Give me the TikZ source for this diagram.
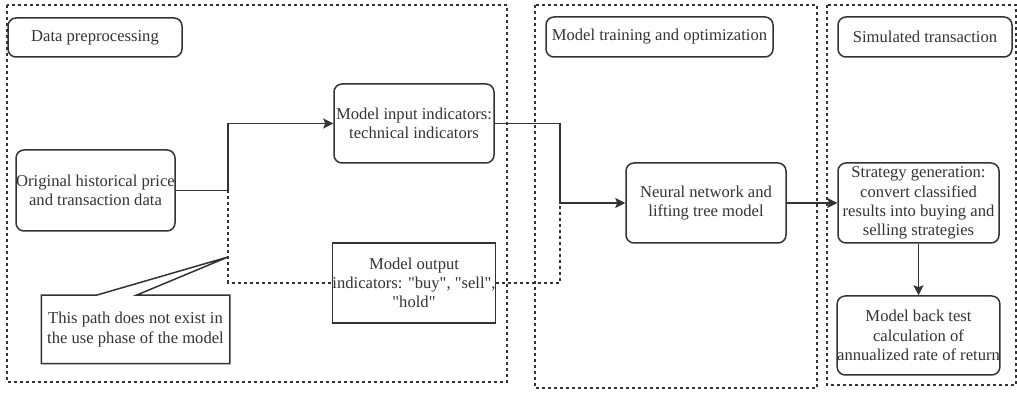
\documentclass[tikz,border=0pt]{standalone}
\usepackage{fontspec}
\setmainfont{Liberation Serif}
\usetikzlibrary{arrows.meta}
\newlength{\du}
\setlength{\du}{0.5pt}
\definecolor{dialinecolor}{rgb}{0.200000, 0.200000, 0.200000}
\tikzset{
  roundbox/.style={draw=dialinecolor, line width=0.75pt, rounded corners=4pt, align=center,
    inner sep=0pt, text=dialinecolor, font=\fontsize{8.3}{9.6}\selectfont},
  squarebox/.style={roundbox, rounded corners=0pt},
  flow/.style={draw=dialinecolor, line width=0.75pt, -{Stealth[length=5pt,width=5pt,inset=1pt]}},
  backpath/.style={draw=dialinecolor, line width=0.6pt, dash pattern=on 1.5pt off 1.5pt},
  panel/.style={draw=dialinecolor, line width=0.6pt, dash pattern=on 1.5pt off 1.5pt}
}
\begin{document}
\begin{tikzpicture}
\pgftransformxscale{1.000000}
\pgftransformyscale{-1.000000}
\useasboundingbox (0\du,0\du) rectangle (1017\du,394\du);
% stage frames
\draw[panel] (7\du,5\du) rectangle (507\du,382\du);
\draw[panel] (535\du,5\du) rectangle (817\du,388\du);
\draw[panel] (827\du,5\du) rectangle (1016\du,385\du);
% stage titles
\node[roundbox, minimum width=174\du, minimum height=39\du] (prep) at (95.0\du,37.5\du){Data preprocessing};
\node[roundbox, minimum width=227\du, minimum height=40\du] (train) at (659.5\du,37.0\du){Model training and optimization};
\node[roundbox, minimum width=174\du, minimum height=40\du] (sim) at (925.0\du,37.0\du){Simulated transaction};
% steps
\node[roundbox, minimum width=159\du, minimum height=81\du] (orig) at (95.5\du,190.5\du){Original historical price\\and transaction data};
\node[roundbox, minimum width=160\du, minimum height=79\du] (input) at (414.0\du,123.5\du){Model input indicators:\\technical indicators};
\node[squarebox, minimum width=160\du, minimum height=80\du] (output) at (414.0\du,283.0\du){Model output\\indicators: \textquotedbl buy\textquotedbl, \textquotedbl sell\textquotedbl,\\\textquotedbl hold\textquotedbl};
\node[roundbox, minimum width=160\du, minimum height=80\du] (nn) at (706.0\du,203.0\du){Neural network and\\lifting tree model};
\node[roundbox, minimum width=161\du, minimum height=80\du] (strat) at (918.5\du,203.0\du){Strategy generation:\\convert classified\\results into buying and\\selling strategies};
\node[roundbox, minimum width=161\du, minimum height=79\du] (backtest) at (918.5\du,335.5\du){Model back test\\calculation of\\annualized rate of return};
% callout
\node[roundbox, draw=none, minimum width=187\du, minimum height=67\du] (note) at (135.5\du,329.5\du){This path does not exist in\\the use phase of the model};
\coordinate (fork) at (228\du,190.5\du);
\coordinate (merge) at (560\du,203\du);
\coordinate (tip) at (228\du,257\du);
\draw[draw=dialinecolor, line width=0.75pt] (note.north west) -- ([xshift=55\du]note.north west) -- (tip)
  -- ([xshift=95\du]note.north west) -- (note.north east) |- (note.south west) -- cycle;
% connectors
\draw[flow] (orig.east) -- (fork) |- (input.west);
\draw[flow] (input.east) -| (merge) -- (nn.west);
\draw[flow] (nn.east) -- (strat.west);
\draw[flow] (strat.south) -- (backtest.north);
\draw[backpath] (fork) |- (output.west);
\draw[backpath] (output.east) -| (merge);
\end{tikzpicture}
\end{document}
